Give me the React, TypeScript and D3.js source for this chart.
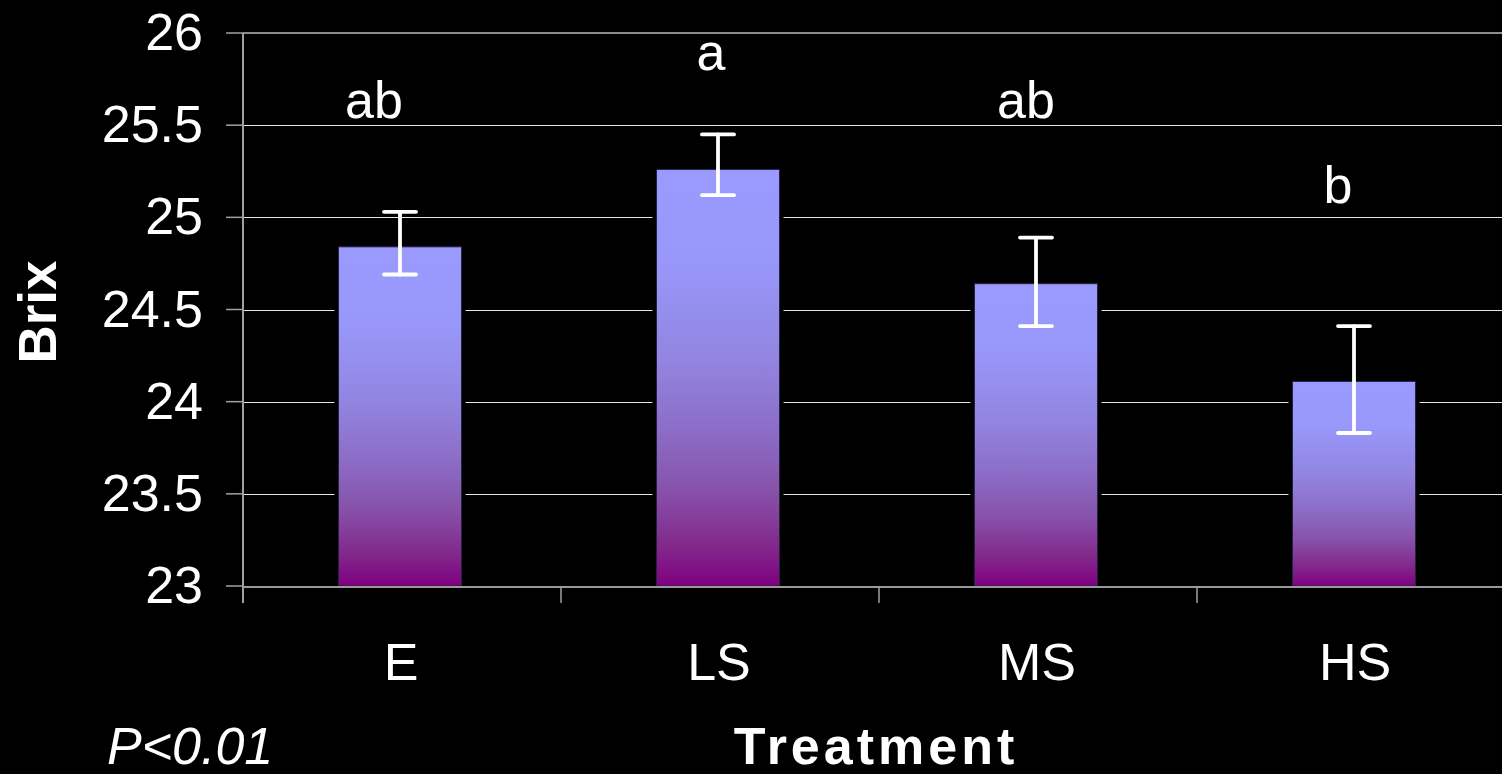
import React from "react";
import * as d3 from "d3";

// Mean Brix per irrigation treatment, with error-bar bounds and significance letters
const treatments = ["E", "LS", "MS", "HS"];
const brixMean = [24.84, 25.26, 24.64, 24.11];
const errUpper = [25.03, 25.45, 24.89, 24.41];
const errLower = [24.69, 25.12, 24.41, 23.83];
const sigLetters = ["ab", "a", "ab", "b"];
const sigLetterLevel = [25.54, 25.8, 25.54, 25.08];
const yTicks = [23, 23.5, 24, 24.5, 25, 25.5, 26];
const yTickLabels = ["23", "23.5", "24", "24.5", "25", "25.5", "26"];

// layout
const W = 1502;
const H = 774;
const plotLeft = 243;
const plotTop = 33;
const plotBottom = 586;
const step = 318;
const letterDx = [-26, -7, -10, -16];
const FONT = "'Liberation Sans', Arial, Helvetica, sans-serif";

export default function App() {
  const x = d3
    .scaleBand<string>()
    .domain(treatments)
    .range([plotLeft - 2, plotLeft - 2 + step * treatments.length])
    .paddingInner(0.613)
    .paddingOuter(0.3065);
  const y = d3.scaleLinear().domain([23, 26]).range([plotBottom, plotTop]);
  const bw = x.bandwidth();
  const capHalf = 16;

  return (
    <svg
      width={W}
      height={H}
      style={{ position: "absolute", left: 0, top: 0, background: "#000" }}
      fontFamily={FONT}
    >
      <defs>
        <linearGradient id="barFill" x1="0" y1="0" x2="0" y2="1">
          <stop offset="0" stopColor="#9a9aff" />
          <stop offset="0.22" stopColor="#9898fa" />
          <stop offset="0.46" stopColor="#9284e0" />
          <stop offset="0.62" stopColor="#8c6ec8" />
          <stop offset="0.77" stopColor="#8752aa" />
          <stop offset="0.9" stopColor="#822a8c" />
          <stop offset="1" stopColor="#800080" />
        </linearGradient>
      </defs>
      <rect x={0} y={0} width={W} height={H} fill="#000" />

      {/* horizontal gridlines */}
      {yTicks.slice(1, -1).map((t) => (
        <line
          key={`g${t}`}
          x1={plotLeft}
          x2={W}
          y1={Math.round(y(t)) + 0.5}
          y2={Math.round(y(t)) + 0.5}
          stroke="#e6e6e6"
          strokeWidth={1}
        />
      ))}
      {/* top border */}
      <line x1={plotLeft} x2={W} y1={y(26)} y2={y(26)} stroke="#8c8c8c" strokeWidth={2} />

      {/* y ticks and labels */}
      {yTicks.map((t, i) => (
        <g key={`t${t}`}>
          <line x1={226} x2={plotLeft} y1={y(t)} y2={y(t)} stroke="#a0a0a0" strokeWidth={1.5} />
          <text
            x={203}
            y={y(t) + 17}
            textAnchor="end"
            fontSize={52}
            fill="#fff"
          >
            {yTickLabels[i]}
          </text>
        </g>
      ))}

      {/* bars */}
      {treatments.map((c, i) => {
        const bx = x(c)!;
        const top = y(brixMean[i]);
        return (
          <g key={`b${c}`}>
            <rect x={bx - 4} y={top - 1} width={bw + 8} height={plotBottom - top + 1} fill="#000" />
            <rect
              x={bx}
              y={top}
              width={bw}
              height={plotBottom - top}
              fill="url(#barFill)"
              stroke="#23233f"
              strokeWidth={1}
            />
          </g>
        );
      })}

      {/* baseline and left axis */}
      <line x1={plotLeft} x2={W} y1={plotBottom + 1} y2={plotBottom + 1} stroke="#9a9a9a" strokeWidth={2} />
      <line x1={plotLeft} x2={plotLeft} y1={plotTop} y2={603} stroke="#a0a0a0" strokeWidth={2} />
      {treatments.map((c, i) => (
        <line
          key={`xt${c}`}
          x1={plotLeft + step * (i + 1)}
          x2={plotLeft + step * (i + 1)}
          y1={plotBottom}
          y2={603}
          stroke="#a0a0a0"
          strokeWidth={1.5}
        />
      ))}

      {/* error bars */}
      {treatments.map((c, i) => {
        const cx = x(c)! + bw / 2;
        const yt = y(errUpper[i]);
        const yb = y(errLower[i]);
        return (
          <g key={`e${c}`} stroke="#fff" strokeWidth={3.8} strokeLinecap="round">
            <line x1={cx} x2={cx} y1={yt} y2={yb} />
            <line x1={cx - capHalf} x2={cx + capHalf} y1={yt} y2={yt} />
            <line x1={cx - capHalf} x2={cx + capHalf} y1={yb} y2={yb} />
          </g>
        );
      })}

      {/* significance letters */}
      {treatments.map((c, i) => (
        <text
          key={`l${c}`}
          x={x(c)! + bw / 2 + letterDx[i]}
          y={y(sigLetterLevel[i])}
          textAnchor="middle"
          fontSize={52}
          fill="#fff"
        >
          {sigLetters[i]}
        </text>
      ))}

      {/* category labels */}
      {treatments.map((c) => (
        <text
          key={`c${c}`}
          x={x(c)! + bw / 2 + 1}
          y={680}
          textAnchor="middle"
          fontSize={52}
          fill="#fff"
        >
          {c}
        </text>
      ))}

      {/* axis titles */}
      <text
        transform="translate(56,312) rotate(-90)"
        textAnchor="middle"
        fontSize={53}
        fontWeight="bold"
        fill="#fff"
      >
        Brix
      </text>
      <text
        x={876}
        y={764}
        textAnchor="middle"
        fontSize={52}
        fontWeight="bold"
        letterSpacing={4}
        fill="#fff"
      >
        Treatment
      </text>
      <text x={107} y={764} fontSize={52} fontStyle="italic" fill="#fff">
        P&lt;0.01
      </text>
    </svg>
  );
}
